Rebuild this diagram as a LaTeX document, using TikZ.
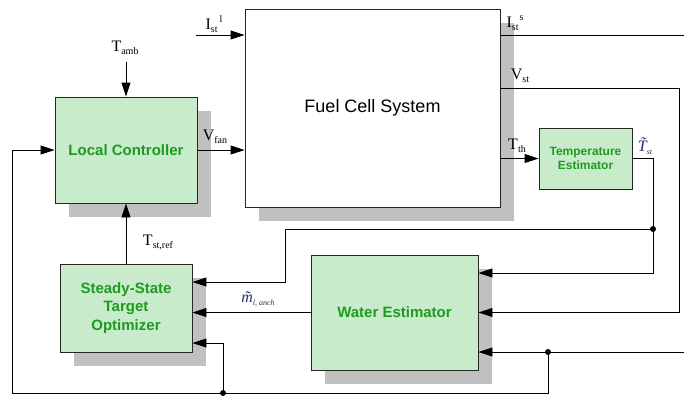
\documentclass[tikz,border=0pt]{standalone}
\usepackage{fontspec}
\setmainfont{Liberation Serif}
\newfontfamily\arialf{Liberation Sans}
\usetikzlibrary{arrows.meta,shadows}
\definecolor{boxfill}{RGB}{200,235,203}
\definecolor{boxtext}{RGB}{30,155,30}
\definecolor{shade}{RGB}{192,192,192}
\definecolor{navy}{RGB}{35,45,95}
\newcommand{\bigf}{\fontsize{16}{16}\selectfont}
\newcommand{\smf}{\fontsize{10}{10}\selectfont}
\newcommand{\mysub}[1]{\raisebox{-3pt}{\smf #1}}
\newcommand{\mysup}[1]{\raisebox{7pt}{\smf #1}}
\begin{document}
\begin{tikzpicture}[x=1pt,y=-1pt,
  blk/.style={draw=black!85,line width=0.9pt,fill=boxfill,text=boxtext,
    font=\arialf\bfseries\fontsize{15}{18.3}\selectfont,align=center,inner sep=0pt},
  shd/.style={general shadow={fill=shade,shadow xshift=14pt,shadow yshift=-14pt}},
  arr/.style={line width=0.9pt,-{Triangle[length=14pt,width=9pt]}},
  ln/.style={line width=0.9pt},
  lbl/.style={inner sep=0pt}]
\useasboundingbox (0,0) rectangle (684,397);
% blocks
\node[draw=black!85,line width=0.9pt,fill=white,shd,minimum width=255pt,minimum height=198pt,
  font=\arialf\fontsize{18}{18}\selectfont] (fcs) at (372.5,108) {Fuel Cell System};
\node[blk,shd,minimum width=142pt,minimum height=106pt] (lc) at (126,150) {Local Controller};
\node[blk,minimum width=93pt,minimum height=61pt,font=\arialf\bfseries\fontsize{12}{14}\selectfont] (te) at (585.5,158.5) {Temperature\\Estimator};
\node[blk,shd,minimum width=132pt,minimum height=88pt] (ssto) at (126,308) {Steady-State\\Target\\Optimizer};
\node[blk,shd,minimum width=167pt,minimum height=115pt] (we) at (394.5,312.5) {Water Estimator};
% coordinates
\coordinate (ilin) at (196,35);
\coordinate (tambs) at (126,62);
\coordinate (isr) at (684,35);
\coordinate (vr) at (679,88);
\coordinate (dot1) at (653,229);
\coordinate (bend1) at (285,229);
\coordinate (dot2) at (548,352);
\coordinate (rin) at (684,352);
\coordinate (dot3) at (223,393);
\coordinate (cb) at (12,393);
% connectors
\draw[arr] (ilin) -- (ilin -| fcs.west);
\draw[arr] (tambs) -- (lc.north);
\draw[arr] (lc.east) -- (lc.east -| fcs.west);
\draw[ln] (isr -| fcs.east) -- (isr);
\draw[arr] (vr -| fcs.east) -- (vr) |- (we.east);
\draw[arr] (te.west -| fcs.east) -- (te.west);
\draw[ln] (te.east) -| (dot1);
\draw[arr] (dot1) |- ([yshift=39.5pt]we.east);
\draw[arr] (dot1) -- (bend1) |- ([yshift=26pt]ssto.east);
\draw[arr] (we.west) -- (we.west -| ssto.east);
\draw[arr] (rin) -- (we.east |- dot2);
\draw[arr] (dot2) |- (cb) |- (lc.west);
\draw[arr] (dot3) |- ([yshift=-35pt]ssto.east);
\draw[arr] (ssto.north) -- (lc.south);
\fill (dot1) circle (3pt);
\fill (dot2) circle (3pt);
\fill (dot3) circle (3pt);
% labels
\node[lbl] (lil) at (214,24) {\bigf I\mysub{st}\hspace{2pt}\mysup{l}};
\node[lbl] (ltamb) at (125,48) {\bigf T\mysub{amb}};
\node[lbl] (lvfan) at (215,137) {\bigf V\mysub{fan}};
\node[lbl] (lis) at (515,23) {\bigf I\mysub{st}\hspace{1pt}\mysup{s}};
\node[lbl] (lvst) at (520,76) {\bigf V\mysub{st}};
\node[lbl] (ltth) at (517,146) {\bigf T\mysub{th}};
\node[lbl,text=navy] (ltst) at (645,146) {\bigf\itshape T^^^^0303\mysub{\fontsize{8}{8}\selectfont st}};
\node[lbl,text=navy] (lmt) at (258,299) {\bigf\itshape m^^^^0303\mysub{\fontsize{8}{8}\selectfont l, anch}};
\node[lbl] (ltref) at (158,243) {\bigf T\mysub{st,ref}};
\end{tikzpicture}
\end{document}
